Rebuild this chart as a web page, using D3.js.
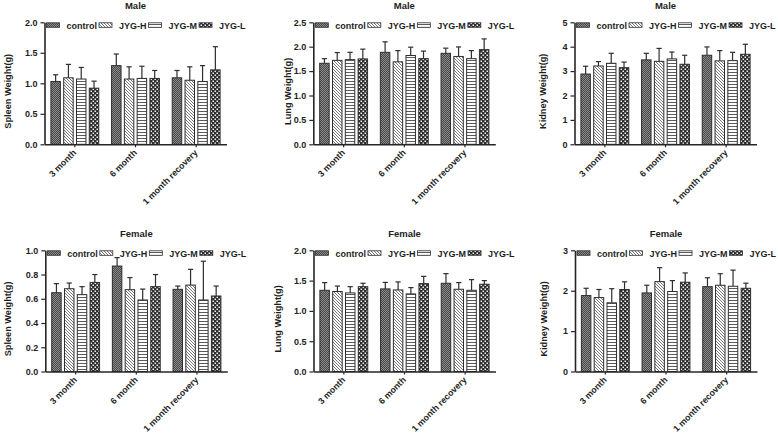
<!DOCTYPE html>
<html>
<head>
<meta charset="utf-8">
<script src="https://cdn.jsdelivr.net/npm/d3@7"></script>
<style>
  html, body { margin: 0; padding: 0; background: #fff; }
  svg { display: block; }
  text { font-family: Arial, "Liberation Sans", sans-serif; font-weight: bold; fill: #1e1e1e; }
</style>
</head>
<body>
<svg id="chart" width="778" height="436"></svg>
<script>
// ---------------- DATA ----------------
const categories = ["3 month", "6 month", "1 month recovery"];
const groups = ["control", "JYG-H", "JYG-M", "JYG-L"];

// rows = categories, columns = groups (control, JYG-H, JYG-M, JYG-L)
const maleSpleenMean = [[1.03, 1.09, 1.07, 0.92], [1.29, 1.07, 1.08, 1.08], [1.09, 1.05, 1.03, 1.22]];
const maleSpleenSD   = [[0.11, 0.22, 0.19, 0.115], [0.19, 0.20, 0.20, 0.13], [0.12, 0.22, 0.26, 0.38]];
const maleSpleenTicks = [0, 0.5, 1.0, 1.5, 2.0];

const maleLungMean = [[1.66, 1.72, 1.735, 1.75], [1.885, 1.69, 1.82, 1.755], [1.865, 1.80, 1.755, 1.94]];
const maleLungSD   = [[0.095, 0.16, 0.15, 0.20], [0.215, 0.23, 0.17, 0.155], [0.105, 0.195, 0.165, 0.22]];
const maleLungTicks = [0, 0.5, 1.0, 1.5, 2.0, 2.5];

const maleKidneyMean = [[2.88, 3.21, 3.32, 3.14], [3.46, 3.40, 3.50, 3.28], [3.65, 3.42, 3.43, 3.69]];
const maleKidneySD   = [[0.32, 0.18, 0.41, 0.23], [0.27, 0.53, 0.28, 0.37], [0.34, 0.42, 0.34, 0.41]];
const maleKidneyTicks = [0, 1, 2, 3, 4, 5];

const femaleSpleenMean = [[0.65, 0.683, 0.634, 0.735], [0.87, 0.675, 0.59, 0.70], [0.678, 0.713, 0.59, 0.623]];
const femaleSpleenSD   = [[0.075, 0.047, 0.066, 0.065], [0.07, 0.10, 0.09, 0.10], [0.027, 0.13, 0.32, 0.082]];
const femaleSpleenTicks = [0, 0.2, 0.4, 0.6, 0.8, 1.0];

const femaleLungMean = [[1.34, 1.32, 1.297, 1.40], [1.363, 1.346, 1.28, 1.45], [1.456, 1.357, 1.34, 1.44]];
const femaleLungSD   = [[0.127, 0.09, 0.103, 0.056], [0.107, 0.132, 0.105, 0.12], [0.159, 0.11, 0.176, 0.06]];
const femaleLungTicks = [0, 0.5, 1.0, 1.5, 2.0];

const femaleKidneyMean = [[1.88, 1.83, 1.70, 2.03], [1.945, 2.225, 1.98, 2.21], [2.10, 2.135, 2.11, 2.06]];
const femaleKidneySD   = [[0.18, 0.20, 0.35, 0.19], [0.19, 0.345, 0.27, 0.23], [0.22, 0.285, 0.40, 0.125]];
const femaleKidneyTicks = [0, 1, 2, 3];

const panelTitles = ["Male", "Male", "Male", "Female", "Female", "Female"];
const yLabels = ["Spleen Weight(g)", "Lung Weight(g)", "Kidney Weight(g)",
                 "Spleen Weight(g)", "Lung Weight(g)", "Kidney Weight(g)"];

// ---------------- LAYOUT ----------------
const svg = d3.select("#chart");
const defs = svg.append("defs");

// patterns
(function () {
  // control: fine dark checker
  let p = defs.append("pattern").attr("id", "pat0").attr("patternUnits", "userSpaceOnUse")
    .attr("width", 2).attr("height", 2);
  p.append("rect").attr("width", 2).attr("height", 2).attr("fill", "#474747");
  p.append("rect").attr("x", 0).attr("y", 0).attr("width", 1).attr("height", 1).attr("fill", "#8c8c8c");
  p.append("rect").attr("x", 1).attr("y", 1).attr("width", 1).attr("height", 1).attr("fill", "#8c8c8c");
  // JYG-H: diagonal hatch
  p = defs.append("pattern").attr("id", "pat1").attr("patternUnits", "userSpaceOnUse")
    .attr("width", 3).attr("height", 3);
  p.append("rect").attr("width", 3).attr("height", 3).attr("fill", "#fff");
  p.append("path").attr("d", "M0,0L3,3M-1,2L1,4M2,-1L4,1").attr("stroke", "#6a6a6a").attr("stroke-width", 0.9);
  // JYG-M: horizontal lines
  p = defs.append("pattern").attr("id", "pat2").attr("patternUnits", "userSpaceOnUse")
    .attr("width", 4).attr("height", 3);
  p.append("rect").attr("width", 4).attr("height", 3).attr("fill", "#fff");
  p.append("rect").attr("x", 0).attr("y", 0).attr("width", 4).attr("height", 1).attr("fill", "#5a5a5a");
  // JYG-L: dark with white dots
  p = defs.append("pattern").attr("id", "pat3").attr("patternUnits", "userSpaceOnUse")
    .attr("width", 4).attr("height", 4);
  p.append("rect").attr("width", 4).attr("height", 4).attr("fill", "#2e2e2e");
  p.append("rect").attr("x", 0.5).attr("y", 0.5).attr("width", 1.5).attr("height", 1.5).attr("fill", "#f2f2f2");
  p.append("rect").attr("x", 2.5).attr("y", 2.5).attr("width", 1.5).attr("height", 1.5).attr("fill", "#f2f2f2");
})();

const panels = [
  { mean: maleSpleenMean, sd: maleSpleenSD, ticks: maleSpleenTicks, fmt: ".1f", ax: 44.5, top: 22.3, bottom: 144.3, ylx: 8 },
  { mean: maleLungMean, sd: maleLungSD, ticks: maleLungTicks, fmt: ".1f", ax: 313.3, top: 22.3, bottom: 144.3, ylx: 288 },
  { mean: maleKidneyMean, sd: maleKidneySD, ticks: maleKidneyTicks, fmt: "d", ax: 574.5, top: 22.3, bottom: 144.3, ylx: 543 },
  { mean: femaleSpleenMean, sd: femaleSpleenSD, ticks: femaleSpleenTicks, fmt: ".1f", ax: 45.3, top: 250.3, bottom: 371.5, ylx: 8 },
  { mean: femaleLungMean, sd: femaleLungSD, ticks: femaleLungTicks, fmt: ".1f", ax: 313.5, top: 250.3, bottom: 371.5, ylx: 278 },
  { mean: femaleKidneyMean, sd: femaleKidneySD, ticks: femaleKidneyTicks, fmt: "d", ax: 575, top: 250.3, bottom: 371.5, ylx: 544 }
];

const plotW = 182;
const axisColor = "#262626";

panels.forEach((p, i) => {
  const g = svg.append("g");
  const y = d3.scaleLinear().domain([0, p.ticks[p.ticks.length - 1]]).range([p.bottom, p.top]);
  const x0 = d3.scaleBand().domain(categories).range([p.ax, p.ax + plotW]);
  const x1 = d3.scaleBand().domain(groups).range([0, x0.bandwidth()]).paddingInner(0.26).paddingOuter(0.5);

  // bars
  categories.forEach((c, ci) => {
    groups.forEach((gr, gi) => {
      const v = p.mean[ci][gi];
      const e = p.sd[ci][gi];
      const bx = x0(c) + x1(gr);
      const bw = x1.bandwidth();
      g.append("rect")
        .attr("x", bx).attr("y", y(v))
        .attr("width", bw).attr("height", y(0) - y(v))
        .attr("fill", `url(#pat${gi})`)
        .attr("stroke", "#2e2e2e").attr("stroke-width", 1);
      const cx = bx + bw / 2;
      g.append("line").attr("x1", cx).attr("x2", cx).attr("y1", y(v)).attr("y2", y(v + e))
        .attr("stroke", "#2e2e2e").attr("stroke-width", 1.2);
      g.append("line").attr("x1", cx - 2.6).attr("x2", cx + 2.6).attr("y1", y(v + e)).attr("y2", y(v + e))
        .attr("stroke", "#2e2e2e").attr("stroke-width", 1.2);
    });
  });

  // y axis
  const ya = g.append("g").attr("transform", `translate(${p.ax},0)`)
    .call(d3.axisLeft(y).tickValues(p.ticks).tickFormat(d3.format(p.fmt)).tickSize(4).tickSizeOuter(0));
  ya.select(".domain").attr("stroke", axisColor).attr("stroke-width", 1.6);
  ya.selectAll(".tick line").attr("stroke", axisColor).attr("stroke-width", 1.2);
  ya.selectAll(".tick text").attr("font-size", 9).attr("font-weight", "bold")
    .attr("font-family", "Arial, 'Liberation Sans', sans-serif").attr("fill", "#1e1e1e");

  // x axis
  const xa = g.append("g").attr("transform", `translate(0,${p.bottom})`)
    .call(d3.axisBottom(x0).tickSize(3).tickSizeOuter(0));
  xa.select(".domain").attr("stroke", axisColor).attr("stroke-width", 1.6);
  xa.selectAll(".tick line").attr("stroke", axisColor).attr("stroke-width", 1.2);
  xa.selectAll(".tick text")
    .attr("font-size", 8.8).attr("font-weight", "bold")
    .attr("font-family", "Arial, 'Liberation Sans', sans-serif").attr("fill", "#1e1e1e")
    .attr("text-anchor", "end").attr("dy", null).attr("y", null)
    .attr("transform", "translate(2,9) rotate(-45)");

  // title
  g.append("text").attr("x", p.ax + plotW / 2).attr("y", p.top - 13.5)
    .attr("text-anchor", "middle").attr("font-size", 9.5).text(panelTitles[i]);

  // y label
  g.append("text")
    .attr("transform", `translate(${p.ylx},${(p.top + p.bottom) / 2 + 8}) rotate(-90)`)
    .attr("text-anchor", "middle").attr("dy", "0.35em").attr("font-size", 9.2)
    .text(yLabels[i]);

  // legend (flow layout)
  let lx = p.ax + 2;
  groups.forEach((gr, gi) => {
    g.append("rect").attr("x", lx).attr("y", p.top + 0.5).attr("width", 13).attr("height", 4.5)
      .attr("fill", `url(#pat${gi})`).attr("stroke", "#2e2e2e").attr("stroke-width", 0.8);
    const t = g.append("text").attr("x", lx + 20).attr("y", p.top + 6.2).attr("font-size", 9).text(gr);
    lx += 20 + t.node().getComputedTextLength() + 2;
  });
});
</script>
</body>
</html>
